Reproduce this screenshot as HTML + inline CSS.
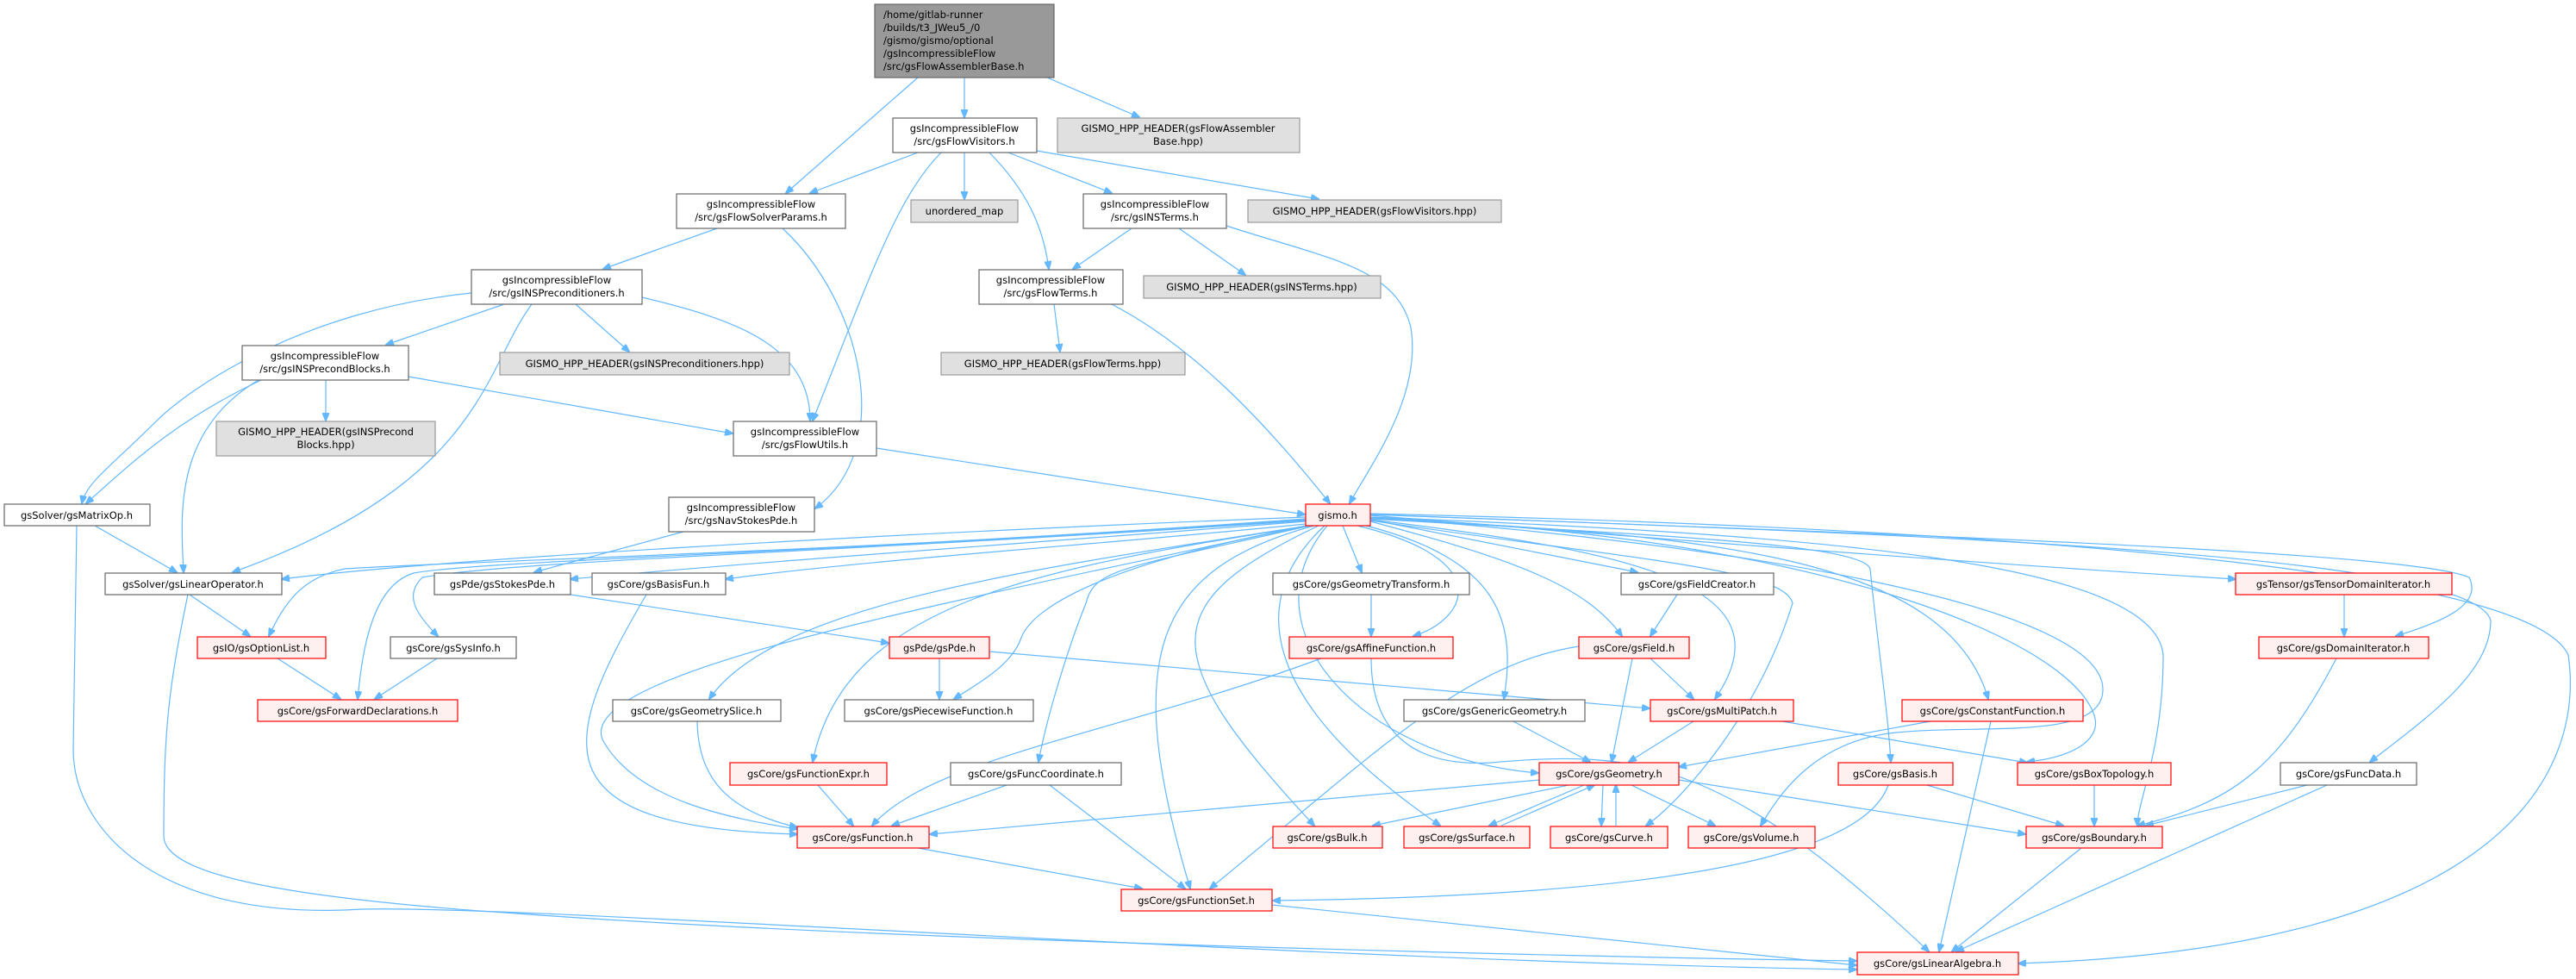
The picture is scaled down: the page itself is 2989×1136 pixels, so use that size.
<!DOCTYPE html>
<html><head><meta charset="utf-8"><style>
html,body{margin:0;padding:0;background:#fff;}
svg{display:block;}
text{font-family:"DejaVu Sans","Liberation Sans",sans-serif;font-size:11.5px;fill:#000;}
.w{fill:#fff;stroke:#666;stroke-width:1.2}
.r{fill:#fff0f0;stroke:#f00;stroke-width:1.2}
.g{fill:#e0e0e0;stroke:#999;stroke-width:1.2}
.m{fill:#999;stroke:#666;stroke-width:1.2}
path{fill:none;stroke:#63b8ff;stroke-width:1.2}
</style></head><body>
<svg width="2989" height="1136" viewBox="0 0 2989 1136" xmlns="http://www.w3.org/2000/svg">
<defs><marker id="a" markerWidth="10" markerHeight="8" refX="9" refY="4" orient="auto" markerUnits="userSpaceOnUse"><path d="M0,0 L10,4 L0,8 z" style="fill:#63b8ff;stroke:#63b8ff"/></marker></defs>
<g marker-end="url(#a)">
<path d="M1065,90 L912,224"/>
<path d="M1119,90 L1119,136"/>
<path d="M1215,90 L1322,136"/>
<path d="M1065,177 L940,224"/>
<path d="M1119,177 L1119,231"/>
<path d="M1170,177 L1290,224"/>
<path d="M1203,175 L1530,231"/>
<path d="M1148,177 C1190,220 1210,260 1217,312"/>
<path d="M1092,177 C1040,230 1010,320 943,488"/>
<path d="M832,265 L700,312"/>
<path d="M908,265 C1000,350 1040,520 946,590"/>
<path d="M1313,265 L1245,312"/>
<path d="M1368,265 L1445,319"/>
<path d="M1423,262 C1540,300 1620,310 1637,380 C1650,460 1590,540 1566,584"/>
<path d="M1223,353 L1230,408"/>
<path d="M1290,353 C1380,400 1460,480 1543,584"/>
<path d="M585,353 L448,400"/>
<path d="M668,353 L730,408"/>
<path d="M745,345 C850,370 940,400 940,488"/>
<path d="M547,340 C350,360 220,450 180,490 C130,540 100,560 95,584"/>
<path d="M617,353 C560,430 560,560 270,664"/>
<path d="M378,441 L378,488"/>
<path d="M474,437 L850,503"/>
<path d="M303,441 C200,490 150,540 100,584"/>
<path d="M300,441 C200,500 210,600 213,664"/>
<path d="M1017,520 L1514,597"/>
<path d="M110,610 L205,664"/>
<path d="M89,610 L85,870 C85,960 180,1070 420,1055 C620,1050 1500,1115 2154,1125"/>
<path d="M220,690 L290,738"/>
<path d="M218,690 C195,800 190,850 190,970 C190,1010 300,1040 600,1060 C1000,1090 1800,1110 2154,1115"/>
<path d="M793,617 L620,664"/>
<path d="M662,690 L1031,746"/>
<path d="M1090,764 L1090,811"/>
<path d="M1148,756 L1914,822"/>
<path d="M322,764 L395,811"/>
<path d="M507,764 L435,811"/>
<path d="M750,690 C650,860 620,960 925,968"/>
<path d="M809,837 C810,900 840,940 925,960"/>
<path d="M949,911 L990,958"/>
<path d="M1168,911 L1035,958"/>
<path d="M1218,911 L1375,1031"/>
<path d="M1065,984 L1325,1031"/>
<path d="M1591,690 L1591,738"/>
<path d="M1533,764 C1300,850 1080,880 1012,958"/>
<path d="M1591,764 C1591,850 1640,890 1730,885 C1900,870 2000,880 2238,1104"/>
<path d="M1946,690 L1915,738"/>
<path d="M1832,750 C1700,770 1600,870 1404,1031"/>
<path d="M1894,764 L1870,884"/>
<path d="M1915,764 L1965,811"/>
<path d="M1756,837 L1845,884"/>
<path d="M1965,837 L1890,884"/>
<path d="M2068,837 L2352,885"/>
<path d="M1786,905 L1079,968"/>
<path d="M1820,911 L1593,958"/>
<path d="M1838,911 L1728,958"/>
<path d="M1742,958 L1850,911"/>
<path d="M1860,911 L1858,958"/>
<path d="M1875,958 L1875,911"/>
<path d="M1893,911 L1990,958"/>
<path d="M1948,905 L2350,968"/>
<path d="M2240,837 L1948,890"/>
<path d="M2310,837 L2250,1104"/>
<path d="M2191,911 C2160,1000 1900,1040 1477,1045"/>
<path d="M2236,911 L2394,958"/>
<path d="M2430,911 L2430,958"/>
<path d="M2720,690 L2720,738"/>
<path d="M2711,764 C2650,880 2600,930 2480,958"/>
<path d="M2677,911 L2490,958"/>
<path d="M2700,911 L2270,1104"/>
<path d="M2415,984 L2265,1104"/>
<path d="M1476,1050 L2154,1120"/>
<path d="M1515,600 C1000,620 500,650 327,672"/>
<path d="M1515,602 C1000,640 560,650 400,660 C350,670 330,700 312,738"/>
<path d="M1515,603 C1000,640 560,650 480,665 C430,680 420,760 415,811"/>
<path d="M1515,604 C1000,640 600,650 490,670 C470,690 480,710 508,738"/>
<path d="M1515,605 C1200,630 900,650 662,672"/>
<path d="M1515,608 C1300,630 1000,650 842,672"/>
<path d="M1520,610 C1300,650 1200,700 1185,740 C1175,770 1140,790 1107,811"/>
<path d="M1518,610 C1200,660 900,700 823,811"/>
<path d="M1520,610 C1200,660 980,700 943,884"/>
<path d="M1515,610 C1100,700 660,780 700,860 C740,930 850,950 925,962"/>
<path d="M1520,610 C1300,660 1270,660 1260,700 C1240,750 1215,830 1205,884"/>
<path d="M1525,610 C1340,660 1300,760 1381,1031"/>
<path d="M1530,610 C1340,700 1340,760 1525,958"/>
<path d="M1537,610 C1440,700 1470,820 1671,958"/>
<path d="M1540,610 C1440,730 1580,880 1785,897"/>
<path d="M1558,610 L1580,664"/>
<path d="M1575,610 C1740,650 1700,720 1640,738"/>
<path d="M1585,610 C1740,650 1760,720 1745,811"/>
<path d="M1590,603 L1900,664"/>
<path d="M1590,605 C1760,650 1840,680 1882,738"/>
<path d="M1590,603 C1900,640 2080,680 1990,811"/>
<path d="M1590,604 C1900,650 2070,660 2080,700 C2040,830 1950,930 1910,958"/>
<path d="M1590,602 C1900,620 2160,630 2170,660 C2180,760 2190,820 2194,884"/>
<path d="M1590,602 C2000,620 2260,650 2307,811"/>
<path d="M1590,601 C2100,620 2400,740 2430,830 C2440,860 2400,880 2352,884"/>
<path d="M1590,600 C2000,630 2440,700 2440,800 C2440,860 2300,840 2200,850 C2100,860 2060,930 2043,958"/>
<path d="M1590,600 C2100,620 2500,650 2510,760 C2510,870 2480,930 2480,958"/>
<path d="M1590,598 C2100,640 2400,660 2594,672"/>
<path d="M1590,597 C2200,620 2800,640 2865,670 C2880,700 2840,720 2780,738"/>
<path d="M1590,597 C2200,620 2870,640 2890,720 C2890,780 2820,830 2750,884"/>
<path d="M1590,596 C2200,610 2930,650 2980,760 C3000,900 2900,1100 2342,1118"/>
</g>
<g>
<rect class="m" x="1015" y="5" width="208" height="85"/>
<text x="1025" y="21">/home/gitlab-runner</text><text x="1025" y="36">/builds/t3_JWeu5_/0</text><text x="1025" y="51">/gismo/gismo/optional</text><text x="1025" y="66">/gsIncompressibleFlow</text><text x="1025" y="81">/src/gsFlowAssemblerBase.h</text>
</g>
<g text-anchor="middle">
<rect class="w" x="1036" y="137" width="167" height="40"/><text x="1119" y="153">gsIncompressibleFlow</text><text x="1119" y="168">/src/gsFlowVisitors.h</text>
<rect class="g" x="1227" y="137" width="281" height="40"/><text x="1367" y="153">GISMO_HPP_HEADER(gsFlowAssembler</text><text x="1367" y="168">Base.hpp)</text>
<rect class="g" x="1057" y="232" width="124" height="26"/><text x="1119" y="249">unordered_map</text>
<rect class="w" x="1257" y="225" width="166" height="40"/><text x="1340" y="241">gsIncompressibleFlow</text><text x="1340" y="256">/src/gsINSTerms.h</text>
<rect class="g" x="1448" y="232" width="294" height="26"/><text x="1595" y="249">GISMO_HPP_HEADER(gsFlowVisitors.hpp)</text>
<rect class="w" x="785" y="225" width="196" height="40"/><text x="883" y="241">gsIncompressibleFlow</text><text x="883" y="256">/src/gsFlowSolverParams.h</text>
<rect class="w" x="547" y="313" width="198" height="40"/><text x="646" y="329">gsIncompressibleFlow</text><text x="646" y="344">/src/gsINSPreconditioners.h</text>
<rect class="w" x="1136" y="313" width="167" height="40"/><text x="1219" y="329">gsIncompressibleFlow</text><text x="1219" y="344">/src/gsFlowTerms.h</text>
<rect class="g" x="1327" y="320" width="275" height="26"/><text x="1464" y="337">GISMO_HPP_HEADER(gsINSTerms.hpp)</text>
<rect class="w" x="281" y="401" width="193" height="40"/><text x="377" y="417">gsIncompressibleFlow</text><text x="377" y="432">/src/gsINSPrecondBlocks.h</text>
<rect class="g" x="580" y="409" width="336" height="26"/><text x="748" y="426">GISMO_HPP_HEADER(gsINSPreconditioners.hpp)</text>
<rect class="g" x="1092" y="409" width="283" height="26"/><text x="1233" y="426">GISMO_HPP_HEADER(gsFlowTerms.hpp)</text>
<rect class="g" x="251" y="489" width="254" height="40"/><text x="378" y="505">GISMO_HPP_HEADER(gsINSPrecond</text><text x="378" y="520">Blocks.hpp)</text>
<rect class="w" x="851" y="489" width="166" height="40"/><text x="934" y="505">gsIncompressibleFlow</text><text x="934" y="520">/src/gsFlowUtils.h</text>
<rect class="w" x="5" y="585" width="169" height="25"/><text x="89" y="602">gsSolver/gsMatrixOp.h</text>
<rect class="r" x="1515" y="585" width="75" height="25"/><text x="1552" y="602">gismo.h</text>
<rect class="w" x="776" y="577" width="169" height="40"/><text x="860" y="593">gsIncompressibleFlow</text><text x="860" y="608">/src/gsNavStokesPde.h</text>
<rect class="w" x="122" y="665" width="205" height="25"/><text x="224" y="682">gsSolver/gsLinearOperator.h</text>
<rect class="w" x="504" y="665" width="158" height="25"/><text x="583" y="682">gsPde/gsStokesPde.h</text>
<rect class="w" x="687" y="665" width="155" height="25"/><text x="764" y="682">gsCore/gsBasisFun.h</text>
<rect class="w" x="1477" y="665" width="228" height="25"/><text x="1591" y="682">gsCore/gsGeometryTransform.h</text>
<rect class="w" x="1881" y="665" width="177" height="25"/><text x="1969" y="682">gsCore/gsFieldCreator.h</text>
<rect class="r" x="2594" y="665" width="251" height="25"/><text x="2719" y="682">gsTensor/gsTensorDomainIterator.h</text>
<rect class="r" x="229" y="739" width="149" height="25"/><text x="303" y="756">gsIO/gsOptionList.h</text>
<rect class="w" x="453" y="739" width="146" height="25"/><text x="526" y="756">gsCore/gsSysInfo.h</text>
<rect class="r" x="1032" y="739" width="116" height="25"/><text x="1090" y="756">gsPde/gsPde.h</text>
<rect class="r" x="1496" y="739" width="190" height="25"/><text x="1591" y="756">gsCore/gsAffineFunction.h</text>
<rect class="r" x="1832" y="739" width="128" height="25"/><text x="1896" y="756">gsCore/gsField.h</text>
<rect class="r" x="2621" y="739" width="197" height="25"/><text x="2719" y="756">gsCore/gsDomainIterator.h</text>
<rect class="r" x="299" y="812" width="232" height="25"/><text x="415" y="829">gsCore/gsForwardDeclarations.h</text>
<rect class="w" x="711" y="812" width="195" height="25"/><text x="808" y="829">gsCore/gsGeometrySlice.h</text>
<rect class="w" x="980" y="812" width="219" height="25"/><text x="1089" y="829">gsCore/gsPiecewiseFunction.h</text>
<rect class="w" x="1629" y="812" width="210" height="25"/><text x="1734" y="829">gsCore/gsGenericGeometry.h</text>
<rect class="r" x="1915" y="812" width="166" height="25"/><text x="1998" y="829">gsCore/gsMultiPatch.h</text>
<rect class="r" x="2207" y="812" width="210" height="25"/><text x="2312" y="829">gsCore/gsConstantFunction.h</text>
<rect class="r" x="847" y="885" width="182" height="26"/><text x="938" y="902">gsCore/gsFunctionExpr.h</text>
<rect class="w" x="1103" y="885" width="198" height="26"/><text x="1202" y="902">gsCore/gsFuncCoordinate.h</text>
<rect class="r" x="1786" y="885" width="162" height="26"/><text x="1867" y="902">gsCore/gsGeometry.h</text>
<rect class="r" x="2133" y="885" width="133" height="26"/><text x="2199" y="902">gsCore/gsBasis.h</text>
<rect class="r" x="2341" y="885" width="178" height="26"/><text x="2430" y="902">gsCore/gsBoxTopology.h</text>
<rect class="w" x="2646" y="885" width="158" height="26"/><text x="2725" y="902">gsCore/gsFuncData.h</text>
<rect class="r" x="925" y="959" width="153" height="25"/><text x="1001" y="976">gsCore/gsFunction.h</text>
<rect class="r" x="1477" y="959" width="127" height="25"/><text x="1540" y="976">gsCore/gsBulk.h</text>
<rect class="r" x="1629" y="959" width="146" height="25"/><text x="1702" y="976">gsCore/gsSurface.h</text>
<rect class="r" x="1799" y="959" width="136" height="25"/><text x="1867" y="976">gsCore/gsCurve.h</text>
<rect class="r" x="1959" y="959" width="147" height="25"/><text x="2032" y="976">gsCore/gsVolume.h</text>
<rect class="r" x="2351" y="959" width="158" height="25"/><text x="2430" y="976">gsCore/gsBoundary.h</text>
<rect class="r" x="1301" y="1032" width="175" height="25"/><text x="1388" y="1049">gsCore/gsFunctionSet.h</text>
<rect class="r" x="2155" y="1105" width="187" height="26"/><text x="2248" y="1122">gsCore/gsLinearAlgebra.h</text>
</g>
</svg>
</body></html>
